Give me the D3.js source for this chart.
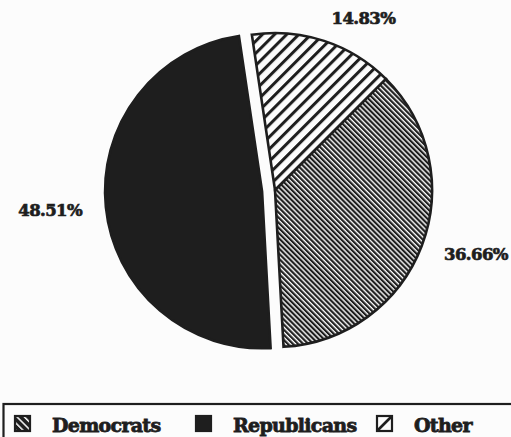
<!DOCTYPE html>
<html lang="en">
<head>
<meta charset="UTF-8">
<title>Vote share by party</title>
<script src="https://d3js.org/d3.v7.min.js"></script>
<style>
  * { margin: 0; padding: 0; box-sizing: border-box; }
  html, body { width: 100%; height: 100%; background: #fcfcfc; overflow: hidden; }
  svg { display: block; }
  text { font-family: "DejaVu Serif", serif; font-weight: bold; fill: #1e1e1e;
         stroke: #1e1e1e; paint-order: stroke; }
</style>
</head>
<body>
<svg id="chart" width="511" height="437"></svg>
<script>
// data
const categories = ["Democrats", "Republicans", "Other"];
const shares = [36.66, 48.51, 14.83];
const shareLabels = ["36.66%", "48.51%", "14.83%"];
// slices run clockwise from just left of 12 o'clock in this order
const sliceOrder = ["Other", "Democrats", "Republicans"];
const explodedSlices = ["Republicans"];

const ink = "#1e1e1e";
const paper = "#fcfcfc";
const width = 511, height = 437;
const cx = 275, cy = 190, radius = 157;
const explodeBy = 13;
const labelRadius = 181;
const startAngle = -0.148;

const svg = d3.select("#chart");
svg.append("rect").attr("width", width).attr("height", height).attr("fill", paper);

// hatch patterns
const defs = svg.append("defs");
function hatch(id, period, lineW, angle, bg, fg) {
    const p = defs.append("pattern")
        .attr("id", id)
        .attr("patternUnits", "userSpaceOnUse")
        .attr("width", period)
        .attr("height", period)
        .attr("patternTransform", `rotate(${angle})`);
    p.append("rect").attr("width", period).attr("height", period).attr("fill", bg);
    p.append("rect").attr("width", lineW).attr("height", period).attr("fill", fg);
}
hatch("hatch-dem", 3.6, 2.2, -45, paper, ink);
hatch("hatch-other", 8.6, 3.0, 45, paper, ink);
hatch("hatch-dem-legend", 5.2, 1.5, -45, ink, paper);

const fills = {
    Democrats: "url(#hatch-dem)",
    Republicans: ink,
    Other: "url(#hatch-other)"
};
const legendFills = {
    Democrats: "url(#hatch-dem-legend)",
    Republicans: ink,
    Other: paper
};

const rows = categories.map((name, i) => ({ name, value: shares[i], label: shareLabels[i] }));

const pie = d3.pie()
    .value(d => d.value)
    .sort((a, b) => sliceOrder.indexOf(a.name) - sliceOrder.indexOf(b.name))
    .startAngle(startAngle)
    .endAngle(startAngle + 2 * Math.PI);

const arc = d3.arc().innerRadius(0).outerRadius(radius);
const labelArc = d3.arc().innerRadius(labelRadius).outerRadius(labelRadius);

const arcs = pie(rows);
const midAngle = d => (d.startAngle + d.endAngle) / 2;
const offset = d => {
    const k = explodedSlices.includes(d.data.name) ? explodeBy : 0;
    return [Math.sin(midAngle(d)) * k, -Math.cos(midAngle(d)) * k];
};

const slices = svg.append("g")
    .attr("transform", `translate(${cx},${cy})`)
    .selectAll("g")
    .data(arcs)
    .join("g")
    .attr("transform", d => `translate(${offset(d)})`);

slices.append("path")
    .attr("d", arc)
    .attr("fill", d => fills[d.data.name])
    .attr("stroke", ink)
    .attr("stroke-width", 2.6)
    .attr("stroke-linejoin", "miter");

slices.append("text")
    .attr("x", d => labelArc.centroid(d)[0])
    .attr("y", d => labelArc.centroid(d)[1])
    .attr("dy", "0.36em")
    .attr("text-anchor", d => Math.sin(midAngle(d)) >= 0 ? "start" : "end")
    .attr("font-size", 16.5)
    .attr("stroke-width", 0.7)
    .attr("letter-spacing", -0.6)
    .text(d => d.data.label);

// legend
const legendTop = 404;
const swatch = 17;
const legendX = d3.scaleBand()
    .domain(categories)
    .range([14, 14 + 3 * 181]);

svg.append("rect")
    .attr("x", 3.5)
    .attr("y", legendTop)
    .attr("width", 530)
    .attr("height", 60)
    .attr("fill", "none")
    .attr("stroke", ink)
    .attr("stroke-width", 2.2);

const items = svg.append("g")
    .selectAll("g")
    .data(categories)
    .join("g")
    .attr("transform", d => `translate(${legendX(d)},${legendTop + 11})`);

items.append("rect")
    .attr("x", 1)
    .attr("y", 1)
    .attr("width", swatch - 2)
    .attr("height", swatch - 2)
    .attr("fill", d => legendFills[d])
    .attr("stroke", ink)
    .attr("stroke-width", 2.2);

items.filter(d => d === "Other")
    .append("line")
    .attr("x1", 2)
    .attr("y1", swatch - 2)
    .attr("x2", swatch - 2)
    .attr("y2", 2)
    .attr("stroke", ink)
    .attr("stroke-width", 2.6);

items.append("text")
    .attr("x", 38)
    .attr("y", swatch)
    .attr("font-size", 19)
    .attr("stroke-width", 0.8)
    .attr("letter-spacing", -0.7)
    .text(d => d);
</script>
</body>
</html>
